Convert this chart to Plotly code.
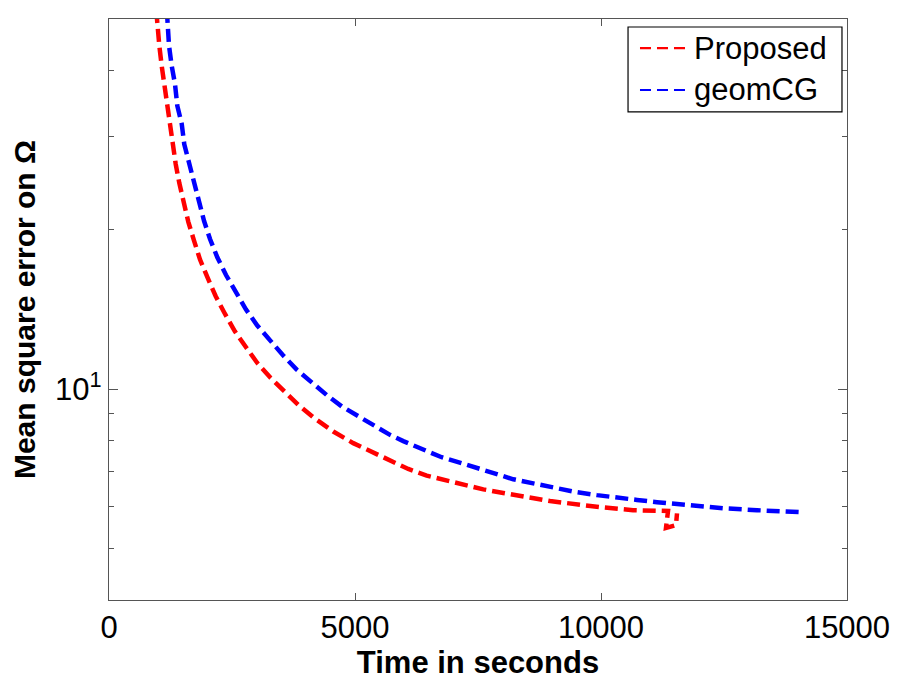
import numpy as np
import plotly.graph_objects as go

# values
proposed_t = [960, 976, 1023, 1071, 1124, 1173, 1240, 1287, 1356, 1429, 1510, 1612,
              1728, 1850, 2006, 2169, 2358, 2561, 2785, 3014, 3287, 3557, 3848, 4152,
              4559, 4965, 5339, 5711, 6083, 6457, 6829, 7236, 7608, 8014, 8286, 8963,
              9979, 10650, 11362, 11321, 11524, 11545]
proposed_mse = [52, 49.3, 44.5, 40.8, 37.7, 34.3, 31.7, 29.0, 26.6, 24.5, 22.5, 20.7,
                19.08, 17.57, 16.22, 14.98, 13.87, 12.85, 12.00, 11.21, 10.50, 9.90, 9.34, 8.85,
                8.32, 7.91, 7.61, 7.31, 7.07, 6.87, 6.73, 6.58, 6.47, 6.37, 6.30, 6.15,
                5.99, 5.91, 5.89, 5.47, 5.54, 5.83]

geomcg_t = [1175, 1193, 1220, 1274, 1341, 1388, 1478, 1530, 1626, 1713, 1815, 1931,
            2053, 2201, 2378, 2575, 2785, 3014, 3272, 3537, 3815, 4120, 4425, 4730,
            5102, 5441, 5711, 5982, 6388, 6762, 7169, 7541, 7880, 8217, 8699, 9106,
            9512, 9919, 10325, 10732, 11138, 11545, 11951, 12480, 13171, 13700, 14045]
geomcg_mse = [52, 48.6, 44.5, 40.8, 37.7, 34.3, 31.7, 29.0, 26.7, 24.6, 22.6, 20.8,
              19.21, 17.75, 16.43, 15.24, 14.14, 13.19, 12.37, 11.59, 10.89, 10.28, 9.75, 9.28,
              8.85, 8.44, 8.20, 7.98, 7.69, 7.44, 7.25, 7.06, 6.90, 6.76, 6.62, 6.50,
              6.39, 6.31, 6.23, 6.18, 6.12, 6.07, 6.04, 5.96, 5.91, 5.89, 5.86]

series_names = ["Proposed", "geomCG"]
series_colors = ["#ff0000", "#0000ff"]

x_ticks = [0, 5000, 10000, 15000]
x_ticktext = ["0", "5000", "10000", "15000"]
y_ticks = [10]
y_ticktext = ["10<sup>1</sup>"]
y_minor = [4, 5, 6, 7, 8, 9, 20, 30, 40, 50]

fig = go.Figure()
for t, v, name, col in zip([proposed_t, geomcg_t], [proposed_mse, geomcg_mse],
                           series_names, series_colors):
    fig.add_trace(go.Scatter(x=t, y=v, mode="lines", name=name, showlegend=False,
                             line=dict(color=col, width=4.5, dash="13px,6px")))

fam = "Liberation Sans, Arial, sans-serif"
axis_font = dict(family=fam, size=31, color="black")

fig.update_xaxes(range=[0, 15000], tickvals=x_ticks, ticktext=x_ticktext,
                 ticks="inside", ticklen=7, tickcolor="#555",
                 showline=True, linecolor="#555", linewidth=1.3,
                 mirror="ticks", showgrid=False, zeroline=False, tickfont=axis_font,
                 title=dict(text="<b>Time in seconds</b>", font=axis_font, standoff=0))
fig.update_yaxes(type="log", range=[np.log10(4), np.log10(50)], tickvals=y_ticks,
                 ticktext=y_ticktext, ticks="inside", ticklen=9, tickcolor="#555",
                 showline=True, linecolor="#555", linewidth=1.3, mirror="ticks",
                 showgrid=False, zeroline=False, tickfont=axis_font,
                 minor=dict(tickmode="array", tickvals=y_minor, ticks="inside",
                            ticklen=5, tickcolor="#555", showgrid=False),
                 title=dict(text="<b>Mean square error on Ω</b>",
                            font=dict(family=fam, size=30, color="black"), standoff=12))

# legend drawn by hand (MATLAB style: box, thin dashed samples)
fig.add_shape(type="rect", xref="paper", yref="paper", x0=0.7033, x1=0.9932,
              y0=0.840, y1=0.9862, line=dict(color="black", width=1.2), fillcolor="white")
for name, col, ly in zip(series_names, series_colors, [0.950, 0.8778]):
    fig.add_shape(type="line", xref="paper", yref="paper", x0=0.7195, x1=0.7873,
                  y0=ly, y1=ly, line=dict(color=col, width=2.2, dash="11px,6px"))
    fig.add_annotation(xref="paper", yref="paper", x=0.790, y=ly, text=name,
                       showarrow=False, xanchor="left", yanchor="middle",
                       font=dict(family=fam, size=31, color="black"))

# the page body adds an 8px offset, so margins are trimmed by that much
fig.update_layout(
    width=900, height=679,
    margin=dict(l=101, r=61, t=11, b=87),
    plot_bgcolor="white", paper_bgcolor="white",
    showlegend=False,
)

fig.write_html("out.html")
